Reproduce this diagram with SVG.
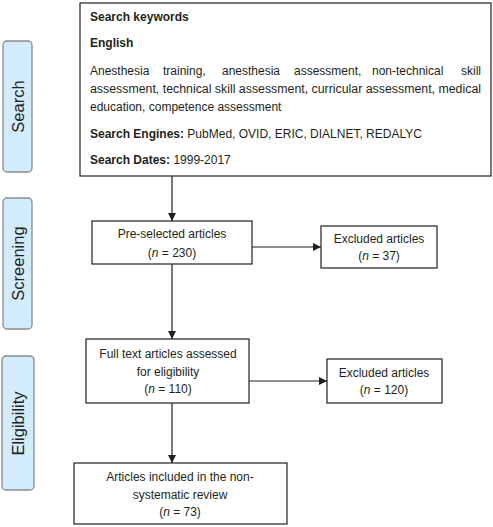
<svg xmlns="http://www.w3.org/2000/svg" width="493" height="527" viewBox="0 0 493 527">
<defs>
<style>
.box{fill:#fff;stroke:#231f20;stroke-width:1.2}
.side{fill:#d3ecfb;stroke:#8a8a8a;stroke-width:1.3}
.t{font-family:"Liberation Sans",Arial,sans-serif;font-size:12px;fill:#231f20}
.b{font-weight:bold}
.c{text-anchor:middle}
.s{font-family:"Liberation Sans",Arial,sans-serif;font-size:16.5px;fill:#222;text-anchor:middle}
.ln{stroke:#231f20;stroke-width:1.2;fill:none}
</style>
<marker id="ah" markerWidth="8" markerHeight="8" refX="8" refY="4" orient="auto" markerUnits="userSpaceOnUse">
<path d="M0,0 L8,4 L0,8 Z" fill="#231f20"/>
</marker>
</defs>
<rect width="493" height="527" fill="#fff"/>
<g id="stage-search">
<rect class="side" x="3" y="41" width="29" height="131" rx="4"/>
<text class="s" transform="translate(24,106.5) rotate(-90)">Search</text>
</g>
<g id="stage-screening">
<rect class="side" x="3" y="198" width="29" height="131" rx="4"/>
<text class="s" transform="translate(24,263.5) rotate(-90)">Screening</text>
</g>
<g id="stage-eligibility">
<rect class="side" x="2" y="356" width="32" height="134" rx="4"/>
<text class="s" transform="translate(24,423.5) rotate(-90)">Eligibility</text>
</g>
<g id="search-box">
<rect class="box" x="80" y="3" width="411" height="173"/>
<text class="t b" x="90" y="21">Search keywords</text>
<text class="t b" x="90" y="47">English</text>
<text class="t" y="75"><tspan x="90">Anesthesia</tspan><tspan x="163">training,</tspan><tspan x="222">anesthesia</tspan><tspan x="294">assessment,</tspan><tspan x="372">non-technical</tspan><tspan x="481" text-anchor="end">skill</tspan></text>
<text class="t" x="90" y="93" textLength="391" lengthAdjust="spacingAndGlyphs">assessment, technical skill assessment, curricular assessment, medical</text>
<text class="t" x="90" y="111">education, competence assessment</text>
<text class="t" x="90" y="138"><tspan class="b">Search Engines:</tspan> PubMed, OVID, ERIC, DIALNET, REDALYC</text>
<text class="t" x="90" y="164"><tspan class="b">Search Dates:</tspan> 1999-2017</text>
</g>
<g id="preselected">
<rect class="box" x="92" y="221" width="160" height="43"/>
<text class="t c" x="172" y="238">Pre-selected articles</text>
<text class="t c" x="172" y="257">(<tspan font-style="italic">n</tspan> = 230)</text>
</g>
<g id="excluded-1">
<rect class="box" x="321" y="226" width="116" height="42"/>
<text class="t c" x="379" y="243">Excluded articles</text>
<text class="t c" x="379" y="260">(<tspan font-style="italic">n</tspan> = 37)</text>
</g>
<g id="fulltext">
<rect class="box" x="86" y="339" width="163" height="64"/>
<text class="t c" x="168" y="358">Full text articles assessed</text>
<text class="t c" x="168" y="376">for eligibility</text>
<text class="t c" x="168" y="393">(<tspan font-style="italic">n</tspan> = 110)</text>
</g>
<g id="excluded-2">
<rect class="box" x="327" y="359" width="115" height="44"/>
<text class="t c" x="384" y="377">Excluded articles</text>
<text class="t c" x="384" y="394">(<tspan font-style="italic">n</tspan> = 120)</text>
</g>
<g id="included">
<rect class="box" x="74" y="463" width="213" height="61"/>
<text class="t c" x="180" y="481">Articles included in the non-</text>
<text class="t c" x="180" y="499">systematic review</text>
<text class="t c" x="180" y="516">(<tspan font-style="italic">n</tspan> = 73)</text>
</g>
<g id="connectors">
<line class="ln" x1="172" y1="176" x2="172" y2="221" marker-end="url(#ah)"/>
<line class="ln" x1="252" y1="247" x2="321" y2="247" marker-end="url(#ah)"/>
<line class="ln" x1="172" y1="264" x2="172" y2="339" marker-end="url(#ah)"/>
<line class="ln" x1="249" y1="381" x2="327" y2="381" marker-end="url(#ah)"/>
<line class="ln" x1="172" y1="403" x2="172" y2="463" marker-end="url(#ah)"/>
</g>
</svg>
